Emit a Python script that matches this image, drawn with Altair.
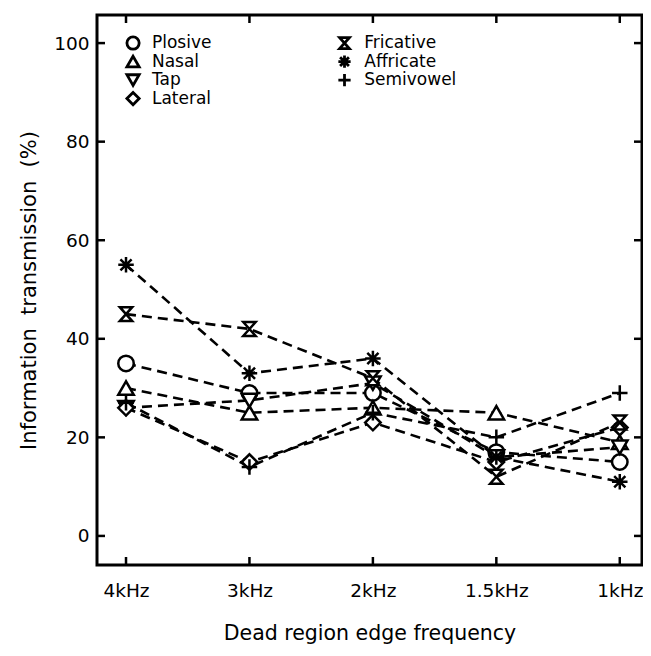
import altair as alt
import pandas as pd

categories = ["4kHz", "3kHz", "2kHz", "1.5kHz", "1kHz"]
series_names = ["Plosive", "Nasal", "Tap", "Lateral", "Fricative", "Affricate", "Semivowel"]
plosive = [35, 29, 29, 17, 15]
nasal = [30, 25, 26, 25, 19]
tap = [26, 27.5, 31, 16, 18]
lateral = [26, 15, 23, 15, 22]
fricative = [45, 42, 32, 12, 23]
affricate = [55, 33, 36, 16, 11]
semivowel = [27, 14, 25, 20, 29]
y_ticks = [0, 20, 40, 60, 80, 100]

HOURGLASS = "M-0.8,-0.9L0.8,-0.9L-0.8,0.9L0.8,0.9Z"
ASTERISK = "M0,-1L0,1M-1,0L1,0M-0.72,-0.72L0.72,0.72M-0.72,0.72L0.72,-0.72"
PLUS = "M0,-1L0,1M-1,0L1,0"
shapes = ["circle", "triangle-up", "triangle-down", "diamond", HOURGLASS, ASTERISK, PLUS]

values = [plosive, nasal, tap, lateral, fricative, affricate, semivowel]
rows = []
for name, vals in zip(series_names, values):
    for i, v in enumerate(vals):
        rows.append({"series": name, "xi": i, "cat": categories[i], "value": v})
df = pd.DataFrame(rows)

W, H = 545, 550
xscale = alt.Scale(domain=[-0.235, 4.18], nice=False, zero=False)
yscale = alt.Scale(domain=[-5.9, 105.7], nice=False, zero=False)
shape_scale = alt.Scale(domain=series_names, range=shapes)

label_expr = "[" + ",".join("'%s'" % c for c in categories) + "][datum.value]"
FONT = "DejaVu Sans"
NB = "\u00a0"

base = alt.Chart(df)

lines = base.mark_line(color="black", strokeWidth=2.6, strokeDash=[10, 6]).encode(
    x=alt.X("xi:Q", scale=xscale,
            axis=alt.Axis(values=list(range(5)), labelExpr=label_expr, tickSize=0, domain=False,
                          grid=False, labelPadding=16, labelFontSize=18.5, labelFont=FONT,
                          labelColor="black", title="Dead region edge frequency",
                          titleFontSize=20.5, titleFont=FONT, titleFontWeight="normal",
                          titlePadding=24, titleColor="black")),
    y=alt.Y("value:Q", scale=yscale,
            axis=alt.Axis(values=y_ticks, tickSize=0, domain=False, grid=False,
                          labelPadding=8, labelFontSize=18.5, labelFont=FONT, labelColor="black",
                          title="Information" + NB * 2 + "transmission" + NB * 2 + "(%)",
                          titleFontSize=21, titleFont=FONT,
                          titleFontWeight="normal", titlePadding=14, titleColor="black")),
    detail="series:N",
)

points = base.mark_point(filled=False, color="black", strokeWidth=2.5, size=240, opacity=1,
                         fill="white", fillOpacity=1).encode(
    x=alt.X("xi:Q", scale=xscale),
    y=alt.Y("value:Q", scale=yscale),
    shape=alt.Shape("series:N", scale=shape_scale, legend=None),
)

# inward ticks
xt = pd.DataFrame({"xi": list(range(5))})
yt = pd.DataFrame({"v": y_ticks})
tick_style = dict(color="black", strokeWidth=2.5)
xt_bot = alt.Chart(xt).mark_rule(**tick_style).encode(
    x=alt.X("xi:Q", scale=xscale), y=alt.value(H), y2=alt.value(H - 8))
xt_top = alt.Chart(xt).mark_rule(**tick_style).encode(
    x=alt.X("xi:Q", scale=xscale), y=alt.value(0), y2=alt.value(8))
yt_left = alt.Chart(yt).mark_rule(**tick_style).encode(
    y=alt.Y("v:Q", scale=yscale), x=alt.value(0), x2=alt.value(8))
yt_right = alt.Chart(yt).mark_rule(**tick_style).encode(
    y=alt.Y("v:Q", scale=yscale), x=alt.value(W), x2=alt.value(W - 8))

# in-plot legend
leg_rows = []
for k, name in enumerate(series_names):
    col = 0 if k < 4 else 1
    row = k if k < 4 else k - 4
    leg_rows.append({"series": name, "sx": 0.057 if col == 0 else 1.77,
                     "tx": 0.21 if col == 0 else 1.93, "ly": 100 - row * 3.75})
leg = pd.DataFrame(leg_rows)
leg_sym = alt.Chart(leg).mark_point(filled=False, color="black", strokeWidth=2.8, size=150,
                                    opacity=1).encode(
    x=alt.X("sx:Q", scale=xscale), y=alt.Y("ly:Q", scale=yscale),
    shape=alt.Shape("series:N", scale=shape_scale, legend=None))
leg_txt = alt.Chart(leg).mark_text(align="left", baseline="middle", fontSize=17, font=FONT,
                                   color="black").encode(
    x=alt.X("tx:Q", scale=xscale), y=alt.Y("ly:Q", scale=yscale), text="series:N")

chart = alt.layer(lines, points, xt_bot, xt_top, yt_left, yt_right, leg_sym, leg_txt).properties(
    width=W, height=H,
    autosize=alt.AutoSizeParams(type="none"),
    padding={"left": 89, "top": 7, "right": 1, "bottom": 83},
    background="white",
).configure_view(stroke="black", strokeWidth=3)

chart.save("out.html", embed_options={"renderer": "svg", "actions": False})
